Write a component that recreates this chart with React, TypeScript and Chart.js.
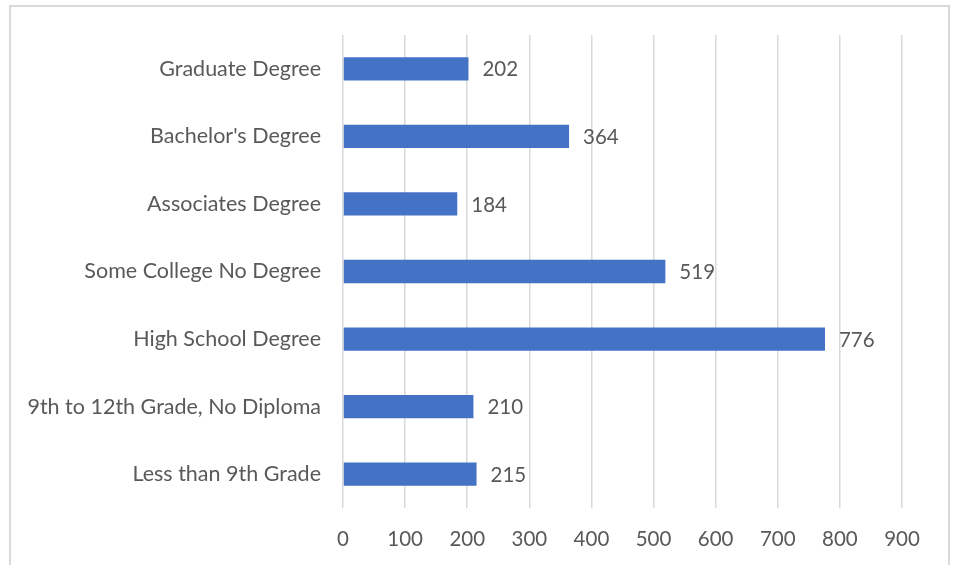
import React, { useEffect, useRef } from "react";
import { Chart, registerables } from "chart.js";

Chart.register(...registerables);

const categories = [
  "Graduate Degree",
  "Bachelor's Degree",
  "Associates Degree",
  "Some College No Degree",
  "High School Degree",
  "9th to 12th Grade, No Diploma",
  "Less than 9th Grade",
];
const values = [202, 364, 184, 519, 776, 210, 215];
const xTicks = [0, 100, 200, 300, 400, 500, 600, 700, 800, 900];

const FONT = "Lato, 'Open Sans', sans-serif";
const TEXT = "#595959";

const dataLabels = {
  id: "dataLabels",
  afterDatasetsDraw(chart: any) {
    const ctx = chart.ctx;
    const meta = chart.getDatasetMeta(0);
    ctx.save();
    ctx.font = `20.5px ${FONT}`;
    ctx.fillStyle = TEXT;
    ctx.textAlign = "left";
    ctx.textBaseline = "middle";
    meta.data.forEach((bar: any, i: number) => {
      ctx.fillText(String(values[i]), bar.x + 14, bar.y + 1);
    });
    ctx.restore();
  },
};

export default function App() {
  const ref = useRef<HTMLCanvasElement>(null);
  useEffect(() => {
    const chart = new Chart(ref.current!, {
      type: "bar",
      data: {
        labels: categories,
        datasets: [
          {
            data: values,
            backgroundColor: "#4472C4",
            borderWidth: 0,
            categoryPercentage: 1,
            barPercentage: 0.345,
          },
        ],
      },
      options: {
        indexAxis: "y",
        animation: false,
        responsive: false,
        layout: { padding: { top: 35, right: 51, left: 0, bottom: 0 } },
        plugins: { legend: { display: false }, tooltip: { enabled: false } },
        scales: {
          x: {
            min: 0,
            max: 900,
            afterBuildTicks: (s: any) => {
              s.ticks = xTicks.map((v) => ({ value: v }));
            },
            afterFit: (s: any) => {
              s.height = 57;
            },
            grid: { color: "#D9D9D9", lineWidth: 1.5, drawTicks: false },
            border: { display: false },
            ticks: { color: TEXT, font: { family: FONT, size: 20.5 }, padding: 19 },
          },
          y: {
            afterFit: (s: any) => {
              s.width = 343;
            },
            grid: { display: false, drawTicks: false },
            border: { display: false },
            ticks: { color: TEXT, font: { family: FONT, size: 21.5 }, padding: 22 },
          },
        },
      },
      plugins: [dataLabels],
    });
    return () => chart.destroy();
  }, []);
  return (
    <div style={{ position: "absolute", left: 0, top: 0, width: 953, height: 565, overflow: "hidden", background: "#fff" }}>
      <div
        style={{
          position: "absolute",
          left: 9,
          top: 5,
          width: 937,
          height: 600,
          border: "2px solid #D9D9D9",
        }}
      />
      <canvas ref={ref} width={953} height={565} style={{ position: "absolute", left: 0, top: 0 }} />
    </div>
  );
}
